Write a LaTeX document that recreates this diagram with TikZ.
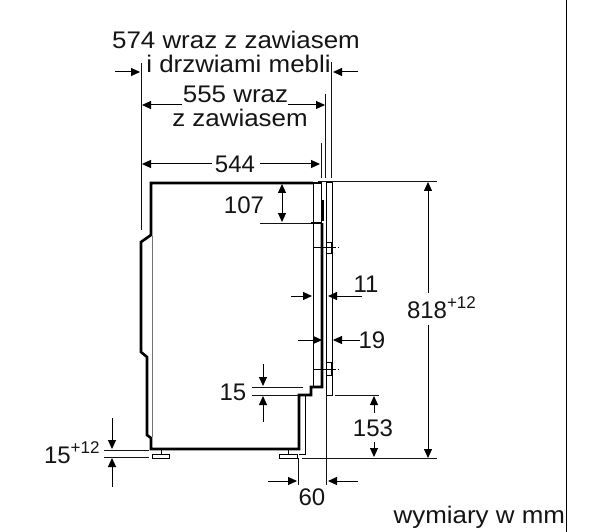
\documentclass[tikz,border=0pt]{standalone}
\usepackage{fontspec}
\setmainfont{Liberation Sans}
\newfontfamily\widefont[FakeStretch=1.08]{Liberation Sans}
\usetikzlibrary{arrows.meta}
\definecolor{inkdark}{HTML}{141414}
\newcommand{\plustwelve}{\raisebox{10pt}{\fontsize{17}{17}\selectfont +12}}
\tikzset{
  wall/.style={draw=black,line width=2.6pt,line join=miter},
  thinline/.style={draw=black,line width=1pt},
  paleline/.style={draw=black!55,line width=.9pt},
  extline/.style={draw=inkdark,line width=.9pt},
  dimarrow/.style={draw=black,line width=1pt,-{Triangle[length=9pt,width=8pt]}},
  bothways/.style={draw=black,line width=1pt,{Triangle[length=9pt,width=8pt]}-{Triangle[length=9pt,width=8pt]}},
  numlabel/.style={inner sep=0pt,outer sep=0pt,text=inkdark,font=\fontsize{24}{24}\selectfont},
  wordlabel/.style={inner sep=0pt,outer sep=0pt,text=inkdark,font=\widefont\fontsize{24}{24}\selectfont},
}
\begin{document}
\begin{tikzpicture}[x=1pt,y=-1pt]
  \useasboundingbox (0,0) rectangle (600,532);
  % frame line on the right
  \draw[line width=1pt] (566,0) -- (566,532);

  % cabinet
  \draw[wall] (313,183) -- (151,183) -- (151,235) -- (141,242) -- (141,352)
    -- (147,357) -- (147,435) -- (151,438) -- (151,449) -- (299,449) -- (299,395)
    -- (311,395) -- (311,387) -- (322,387) -- (322,223);
  \draw[wall] (311,223) -- (322,223);
  \draw[line width=3.2pt] (322.5,200) -- (322.5,221);
  \draw[line width=1.7pt] (313,183) -- (322,183);
  \draw[paleline] (152.5,236) -- (152.5,437);
  \draw[thinline] (313,183) -- (313,387);
  \draw[thinline] (321,183) -- (321,223);
  \draw[thinline] (305,395) -- (305,454) -- (299,454);

  % feet
  \draw[thinline] (152,454) rectangle (169,458);
  \draw[thinline] (161,449) -- (161,454);
  \draw[thinline] (279,454) rectangle (297,458);
  \draw[thinline] (288,449) -- (288,454);

  % door and hinges
  \draw[thinline] (326,183) rectangle (332,395);
  \draw[thinline] (327,242) -- (331,242) -- (331,253) -- (327,253);
  \draw[thinline] (327,362) -- (331,362) -- (331,375) -- (327,375);
  \draw[thinline] (313,247) -- (333,247);
  \draw[thinline,densely dashed] (333,247) -- (339,247);
  \draw[thinline] (313,369) -- (333,369);
  \draw[thinline,densely dashed] (333,369) -- (339,369);

  % extension lines
  \draw[extline] (141,63) -- (141,230);
  \draw[extline] (331.7,62) -- (331.7,178);
  \draw[extline] (325.7,94) -- (325.7,178);
  \draw[extline] (321,143) -- (321,178);
  \draw[extline] (318,181.5) -- (437,181.5);
  \draw[extline] (302,458) -- (437,458);
  \draw[extline] (260,223) -- (311,223);
  \draw[extline] (252,387) -- (303,387);
  \draw[extline] (252,395) -- (298,395);
  \draw[extline] (335,395) -- (379,395);
  \draw[extline] (104,450) -- (149,450);
  \draw[extline] (104,457.5) -- (149,457.5);
  \draw[extline] (298,458) -- (298,485);
  \draw[extline] (326,395) -- (326,485);

  % labels
  \node[wordlabel,anchor=base] (label574) at (236,49) {574 wraz z zawiasem};
  \node[wordlabel,anchor=base] (labeldoor) at (238.5,73) {i drzwiami mebli};
  \node[wordlabel,anchor=base] (label555) at (235.5,103) {555 wraz};
  \node[wordlabel,anchor=base] (labelhinge) at (240,127) {z zawiasem};
  \node[numlabel,anchor=base] (label544) at (235,173) {544};
  \node[numlabel,anchor=base] (label107) at (244,213) {107};
  \node[numlabel,anchor=base] (label11) at (366,292) {11};
  \node[numlabel,anchor=base] (label19) at (372,348) {19};
  \node[numlabel,anchor=base] (label15) at (233,400) {15};
  \node[numlabel,anchor=base] (label153) at (373,436) {153};
  \node[numlabel,anchor=base] (label60) at (312,505) {60};
  \node[numlabel,anchor=base west] (labelfoot) at (44,463) {15\plustwelve};
  \node[numlabel,anchor=base west] (labelheight) at (407,318) {818\plustwelve};
  \node[wordlabel,anchor=base east] (labelunit) at (565,523) {wymiary w mm};

  % free ends of the dimension arrows
  \coordinate (a574) at (115,72);   \coordinate (b574) at (140,72);
  \coordinate (c574) at (358,72);   \coordinate (d574) at (333,72);
  \coordinate (a555) at (182,105);  \coordinate (b555) at (142,105);
  \coordinate (c555) at (288,105);  \coordinate (d555) at (325,105);
  \coordinate (a544) at (212,164);  \coordinate (b544) at (142,164);
  \coordinate (c544) at (260,164);  \coordinate (d544) at (320,164);
  \coordinate (a107) at (282,184);  \coordinate (b107) at (282,222);
  \coordinate (a11) at (291,296);   \coordinate (b11) at (312,296);
  \coordinate (c11) at (362,296);   \coordinate (d11) at (328,296);
  \coordinate (a19) at (298,340);   \coordinate (b19) at (322,340);
  \coordinate (c19) at (360,340);   \coordinate (d19) at (333,340);
  \coordinate (a15) at (263,364);   \coordinate (b15) at (263,386);
  \coordinate (c15) at (263,422);   \coordinate (d15) at (263,396);
  \coordinate (a153) at (374,413);  \coordinate (b153) at (374,396);
  \coordinate (c153) at (374,442);  \coordinate (d153) at (374,457);
  \coordinate (a60) at (268,481);   \coordinate (b60) at (297,481);
  \coordinate (c60) at (358,481);   \coordinate (d60) at (328,481);
  \coordinate (afoot) at (112,418); \coordinate (bfoot) at (112,449);
  \coordinate (cfoot) at (112,487); \coordinate (dfoot) at (112,458);
  \coordinate (a818) at (428,182);  \coordinate (b818) at (428,293);
  \coordinate (c818) at (428,325);  \coordinate (d818) at (428,458);

  % dimension arrows
  \draw[dimarrow] (a574) -- (b574);
  \draw[dimarrow] (c574) -- (d574);
  \draw[dimarrow] (a555) -- (b555);
  \draw[dimarrow] (c555) -- (d555);
  \draw[dimarrow] (a544) -- (b544);
  \draw[dimarrow] (c544) -- (d544);
  \draw[bothways] (a107) -- (b107);
  \draw[dimarrow] (a11) -- (b11);
  \draw[dimarrow] (c11) -- (d11);
  \draw[dimarrow] (a19) -- (b19);
  \draw[dimarrow] (c19) -- (d19);
  \draw[dimarrow] (a15) -- (b15);
  \draw[dimarrow] (c15) -- (d15);
  \draw[dimarrow] (a153) -- (b153);
  \draw[dimarrow] (c153) -- (d153);
  \draw[dimarrow] (a60) -- (b60);
  \draw[dimarrow] (c60) -- (d60);
  \draw[dimarrow] (afoot) -- (bfoot);
  \draw[dimarrow] (cfoot) -- (dfoot);
  \draw[dimarrow] (b818) -- (a818);
  \draw[dimarrow] (c818) -- (d818);
\end{tikzpicture}
\end{document}
